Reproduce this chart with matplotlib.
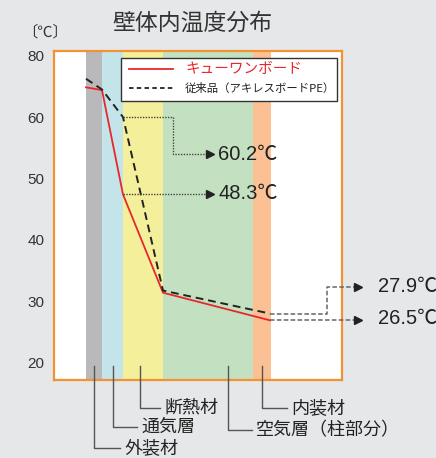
import numpy as np
import matplotlib.pyplot as plt
import matplotlib.transforms as mtransforms

plt.rcParams['font.family'] = ['Noto Sans CJK JP', 'DejaVu Sans']

# 壁の層（左=屋外側）: 厚さ方向の境界位置
layer_names = ['外装材', '通気層', '断熱材', '空気層（柱部分）', '内装材']
layer_edges = [32, 48, 69, 109, 199, 217]
layer_colors = ['#b9b8bb', '#c3e5ea', '#f3ef9a', '#c3e1c0', '#fbc194']

# 温度分布（軸の目盛り単位、最上段の目盛りは 80 と表示）
x_pts = [32, 48, 69, 109, 216]
t_new = [64.85, 64.4, 47.4, 31.4, 26.9]      # キューワンボード
t_old = [66.25, 64.5, 60.0, 31.75, 28.0]     # 従来品

ytick_pos = [70, 60, 50, 40, 30, 20]
ytick_lab = ['80', '60', '50', '40', '30', '20']

bg = '#e6e7e9'
fig = plt.figure(figsize=(4.36, 4.58), dpi=100, facecolor=bg)
ax = fig.add_axes([54/436, 78/458, 288/436, 329/458])
ax.set_xlim(0, 288)
ax.set_ylim(17.18, 70.77)
ax.set_facecolor('white')

for i in range(len(layer_names)):
    ax.axvspan(layer_edges[i], layer_edges[i+1], color=layer_colors[i], lw=0, zorder=0)

ax.plot(x_pts, t_new, color='#e8262d', lw=1.3, zorder=3)
ax.plot(x_pts, t_old, color='#222222', lw=1.4, ls=(0, (4, 2.5)), zorder=3)

for s in ax.spines.values():
    s.set_color('#f39232')
    s.set_linewidth(1.6)
ax.set_xticks([])
ax.set_yticks(ytick_pos)
ax.set_yticklabels(ytick_lab, fontsize=11, color='#333333', family=['Liberation Sans'])
ax.tick_params(axis='y', length=0, pad=7)

# 凡例
ax.add_patch(plt.Rectangle((0.233, 0.848), 0.75, 0.131, transform=ax.transAxes,
                           facecolor='white', edgecolor='#333333', lw=1, zorder=5))
ax.plot([0.26, 0.413], [0.944, 0.944], transform=ax.transAxes, color='#e8262d', lw=1.3, zorder=6)
ax.plot([0.26, 0.413], [0.887, 0.887], transform=ax.transAxes, color='#222222', lw=1.3,
        ls=(0, (2.5, 1.8)), zorder=6)
ax.text(0.455, 0.944, 'キューワンボード', transform=ax.transAxes, color='#e8262d',
        fontsize=10.5, va='center', zorder=6)
ax.text(0.455, 0.887, '従来品（アキレスボードPE）', transform=ax.transAxes, color='#222222',
        fontsize=8.2, va='center', zorder=6)

# 注記の矢印
num_font = ['Liberation Sans', 'Noto Sans CJK JP']
dot = dict(color='#444444', lw=1.0, ls=(0, (1, 1)), clip_on=False, zorder=4)
dash = dict(color='#666666', lw=1.1, ls=(0, (3, 1.5)), clip_on=False, zorder=4)

ax.plot([x_pts[2], 119, 119, 156], [t_old[2], t_old[2], 53.94, 53.94], **dot)
ax.plot([156], [53.94], marker='>', ms=6, color='#222222', clip_on=False, zorder=4)
ax.text(164, 53.94, '60.2℃', fontsize=14.5, va='center', color='#222222', family=num_font)

ax.plot([x_pts[2], 156], [t_new[2], t_new[2]], **dot)
ax.plot([156], [t_new[2]], marker='>', ms=6, color='#222222', clip_on=False, zorder=4)
ax.text(164, 47.6, '48.3℃', fontsize=14.5, va='center', color='#222222', family=num_font)

ax.plot([x_pts[4], 273, 273, 304], [t_old[4], t_old[4], 32.4, 32.4], **dash)
ax.plot([304], [32.4], marker='>', ms=6, color='#222222', clip_on=False, zorder=4)
ax.text(324, 32.4, '27.9℃', fontsize=14.5, va='center', color='#222222', family=num_font)

ax.plot([x_pts[4], 304], [t_new[4], t_new[4]], **dash)
ax.plot([304], [t_new[4]], marker='>', ms=6, color='#222222', clip_on=False, zorder=4)
ax.text(324, 27.2, '26.5℃', fontsize=14.5, va='center', color='#222222', family=num_font)

# 層の名称の引き出し線
tr = mtransforms.blended_transform_factory(ax.transData, fig.transFigure)
lead_x = [40, 59, 86, 174, 208]
lead_y = [448, 427, 408, 430, 408]
lead_len = [26, 24, 20, 24, 25]
for name, lx, ly, ll in zip(layer_names, lead_x, lead_y, lead_len):
    y0 = 1 - 366/458
    y1 = 1 - ly/458
    ax.plot([lx, lx, lx + ll], [y0, y1, y1], transform=tr, color='#555555', lw=1.0,
            clip_on=False, zorder=4)
    ax.text(lx + ll + 4, y1, name, transform=tr, fontsize=13, va='center', color='#222222')

fig.text(192/436, 1 - 23/458, '壁体内温度分布', fontsize=16.5, ha='center', va='center',
         color='#333333')
fig.text(22/436, 1 - 32/458, '〔℃〕', fontsize=11, va='center', color='#333333')

fig.savefig('out.png', dpi=100, facecolor=bg)
